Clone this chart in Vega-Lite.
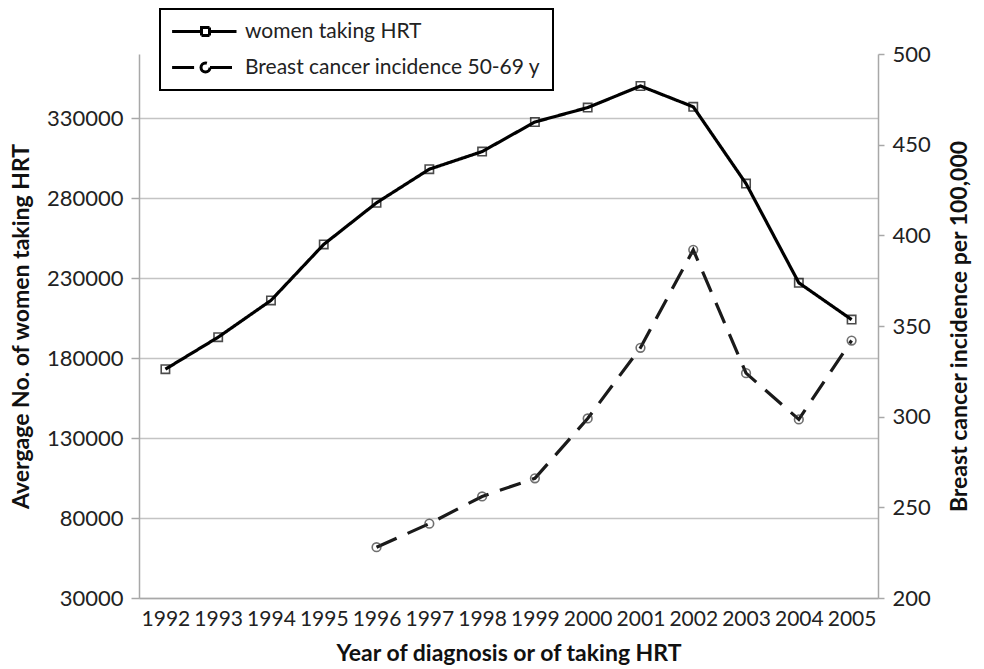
{
  "$schema": "https://vega.github.io/schema/vega-lite/v6.json",
  "width": 739,
  "height": 544,
  "padding": {"left": 10, "top": 8, "right": 5, "bottom": 5},
  "background": "white",
  "config": {
    "view": {"stroke": null},
    "font": "Lato",
    "axis": {
      "labelFont": "Lato",
      "labelFontSize": 22,
      "labelColor": "#222",
      "titleFont": "Lato",
      "titleFontSize": 23,
      "titleFontWeight": "bold",
      "titleColor": "#111",
      "domainColor": "#a8a8a8",
      "domainWidth": 1.5,
      "tickColor": "#a8a8a8",
      "tickWidth": 1.5
    }
  },
  "data": {
    "values": [
      {"year": "1992", "series": "women taking HRT", "value": 173000},
      {"year": "1993", "series": "women taking HRT", "value": 193000},
      {"year": "1994", "series": "women taking HRT", "value": 216000},
      {"year": "1995", "series": "women taking HRT", "value": 251000},
      {"year": "1996", "series": "women taking HRT", "value": 277000},
      {"year": "1997", "series": "women taking HRT", "value": 298000},
      {"year": "1998", "series": "women taking HRT", "value": 309000},
      {"year": "1999", "series": "women taking HRT", "value": 327500},
      {"year": "2000", "series": "women taking HRT", "value": 336500},
      {"year": "2001", "series": "women taking HRT", "value": 350000},
      {"year": "2002", "series": "women taking HRT", "value": 337000},
      {"year": "2003", "series": "women taking HRT", "value": 289000},
      {"year": "2004", "series": "women taking HRT", "value": 227000},
      {"year": "2005", "series": "women taking HRT", "value": 204000},
      {"year": "1996", "series": "Breast cancer incidence 50-69 y", "value": 228},
      {"year": "1997", "series": "Breast cancer incidence 50-69 y", "value": 241},
      {"year": "1998", "series": "Breast cancer incidence 50-69 y", "value": 256},
      {"year": "1999", "series": "Breast cancer incidence 50-69 y", "value": 266},
      {"year": "2000", "series": "Breast cancer incidence 50-69 y", "value": 299},
      {"year": "2001", "series": "Breast cancer incidence 50-69 y", "value": 338},
      {"year": "2002", "series": "Breast cancer incidence 50-69 y", "value": 392},
      {"year": "2003", "series": "Breast cancer incidence 50-69 y", "value": 324},
      {"year": "2004", "series": "Breast cancer incidence 50-69 y", "value": 298.5},
      {"year": "2005", "series": "Breast cancer incidence 50-69 y", "value": 342}
    ]
  },
  "encoding": {
    "x": {
      "field": "year",
      "type": "ordinal",
      "scale": {
        "type": "point",
        "padding": 0.5,
        "domain": ["1992","1993","1994","1995","1996","1997","1998","1999","2000","2001","2002","2003","2004","2005"]
      },
      "axis": {
        "title": "Year of diagnosis or of taking HRT",
        "labelAngle": 0,
        "labelFontSize": 21,
        "ticks": false,
        "labelPadding": 10,
        "titlePadding": 13
      }
    }
  },
  "layer": [
    {
      "transform": [{"filter": "datum.series === 'women taking HRT'"}],
      "encoding": {
        "y": {
          "field": "value",
          "type": "quantitative",
          "scale": {"domain": [30000, 370000], "nice": false, "zero": false},
          "axis": {
            "orient": "left",
            "title": "Avergage No. of women taking HRT",
            "values": [30000, 80000, 130000, 180000, 230000, 280000, 330000],
            "format": "d",
            "grid": true,
            "gridColor": "#c4c4c4",
            "gridWidth": 1.5,
            "tickSize": 8,
            "labelPadding": 8,
            "titlePadding": 13
          }
        }
      },
      "layer": [
        {
          "mark": {"type": "line", "color": "#000", "strokeWidth": 3.2},
          "encoding": {
            "strokeDash": {
              "field": "series",
              "type": "nominal",
              "scale": {
                "domain": ["women taking HRT", "Breast cancer incidence 50-69 y"],
                "range": [[1, 0], [22, 12]]
              },
              "legend": {
                "orient": "none",
                "legendX": 21,
                "legendY": -45,
                "title": null,
                "padding": 12,
                "strokeColor": "#000",
                "fillColor": "white",
                "labelFont": "Lato",
                "labelFontSize": 21,
                "labelColor": "#222",
                "labelLimit": 0,
                "labelOffset": 52,
                "rowPadding": 14,
                "symbolSize": 256,
                "symbolStrokeWidth": 3,
                "symbolStrokeColor": "#000",
                "encode": {
                  "legend": {"update": {"strokeWidth": {"value": 2}}},
                  "symbols": {
                    "update": {
                      "shape": {"signal": "datum.value === 'women taking HRT' ? 'M-1.3,0H2.375M3.375,0H6.75M2.375,-0.5H3.375V0.5H2.375Z' : 'M-1.3,0H2.3125M3.4375,0H6.75M3.4375,0A0.5625,0.5625 0 1,1 2.3125,0A0.5625,0.5625 0 1,1 3.4375,0'"},
                      "stroke": {"value": "#000"},
                      "strokeWidth": {"value": 3},
                      "fill": {"value": "white"}
                    }
                  }
                }
              }
            }
          }
        },
        {
          "mark": {"type": "point", "shape": "square", "size": 70, "filled": false, "color": "#000", "strokeWidth": 1.6}
        }
      ]
    },
    {
      "transform": [{"filter": "datum.series === 'Breast cancer incidence 50-69 y'"}],
      "encoding": {
        "y": {
          "field": "value",
          "type": "quantitative",
          "scale": {"domain": [200, 500], "nice": false, "zero": false},
          "axis": {
            "orient": "right",
            "title": "Breast cancer incidence per 100,000",
            "titleAngle": 270,
            "titleBaseline": "top",
            "values": [200, 250, 300, 350, 400, 450, 500],
            "grid": false,
            "tickSize": 6,
            "labelPadding": 8,
            "titlePadding": 18
          }
        }
      },
      "layer": [
        {
          "mark": {"type": "line", "color": "#1a1a1a", "strokeWidth": 3.2},
          "encoding": {
            "strokeDash": {"field": "series", "type": "nominal"}
          }
        },
        {
          "mark": {"type": "point", "shape": "circle", "size": 75, "filled": false, "color": "#333", "strokeWidth": 1.6}
        }
      ]
    }
  ],
  "resolve": {"scale": {"y": "independent"}}
}
